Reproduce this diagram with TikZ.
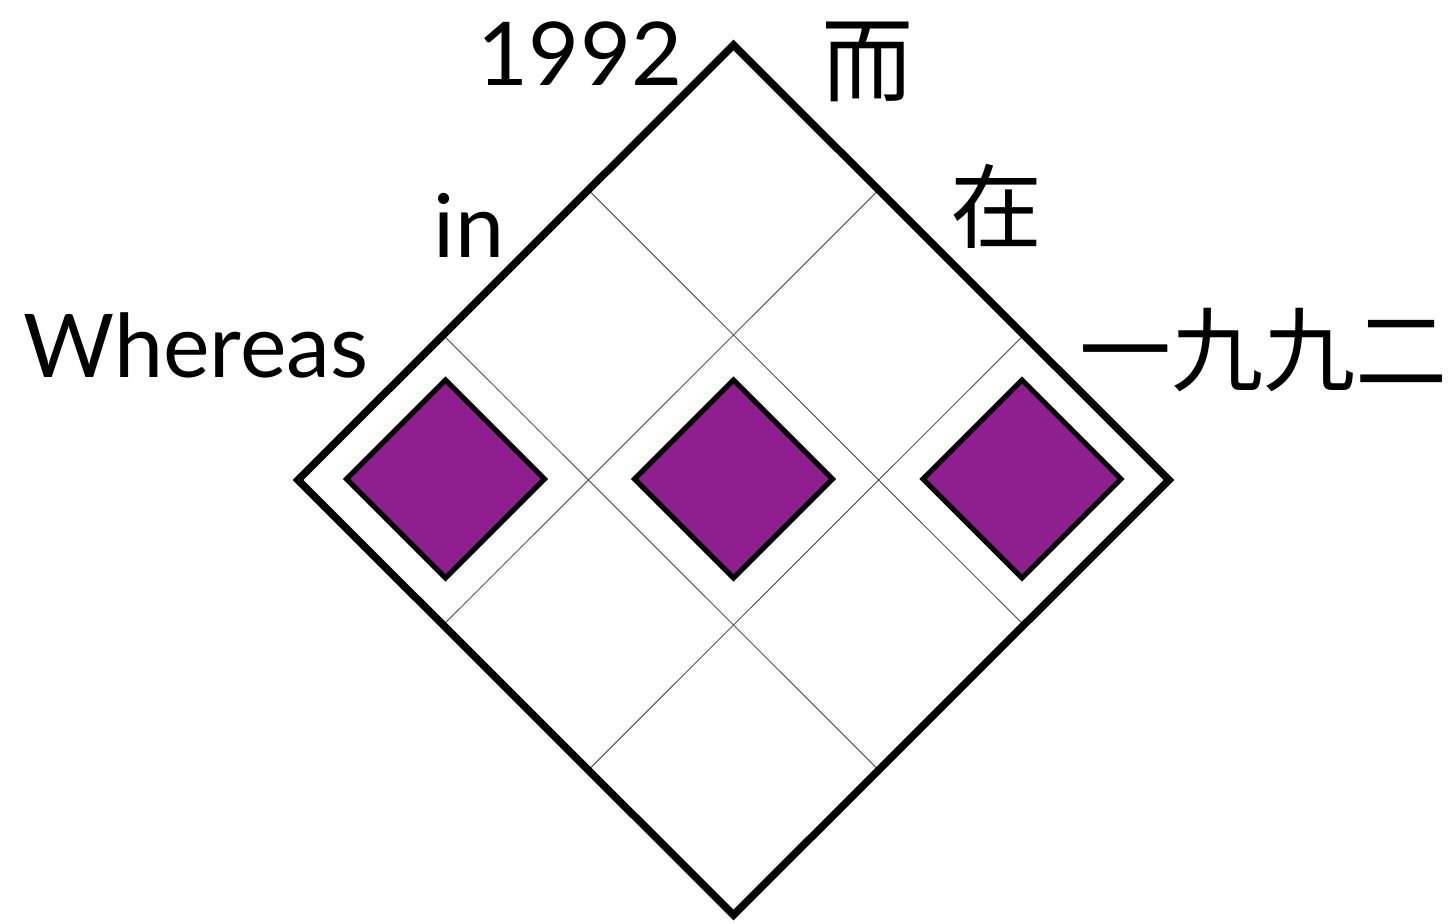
\documentclass[tikz,border=0pt]{standalone}
\usepackage{fontspec}
\usetikzlibrary{calc}
\setmainfont{Lato}
\newfontfamily\cjk{Noto Sans CJK SC}
\definecolor{dpurple}{RGB}{143,31,143}
\begin{document}
\begin{tikzpicture}[x=0.5pt,y=-0.5pt,
  outer/.style={draw=black,line width=3.8pt,line join=miter},
  gridline/.style={draw=black!65,line width=0.5pt},
  cellmark/.style={draw=black,fill=dpurple,line width=2.6pt,line join=miter},
  lbl/.style={inner sep=0pt,font=\fontsize{44}{50}\selectfont},
  cjklbl/.style={inner sep=0pt,font=\cjk\fontsize{46}{52}\selectfont}]
\useasboundingbox (0,0) rectangle (1449,923);
% outer diamond corners
\coordinate (T) at (733.5,45);
\coordinate (L) at (298,480);
\coordinate (R) at (1169,480);
\coordinate (B) at (733.5,915);
% grid points on edges
\coordinate (tl1) at ($(L)!1/3!(T)$);
\coordinate (tl2) at ($(L)!2/3!(T)$);
\coordinate (br1) at ($(B)!1/3!(R)$);
\coordinate (br2) at ($(B)!2/3!(R)$);
\coordinate (tr1) at ($(T)!1/3!(R)$);
\coordinate (tr2) at ($(T)!2/3!(R)$);
\coordinate (bl1) at ($(L)!1/3!(B)$);
\coordinate (bl2) at ($(L)!2/3!(B)$);
\draw[gridline] (tl1) -- (br1);
\draw[gridline] (tl2) -- (br2);
\draw[gridline] (tr1) -- (bl1);
\draw[gridline] (tr2) -- (bl2);
\draw[outer] (T) -- (R) -- (B) -- (L) -- cycle;
% purple marks
\foreach \n/\cx in {m1/445.5, m2/733.5, m3/1022} {
  \draw[cellmark] (\cx-99,479) -- (\cx,380) -- (\cx+99,479) -- (\cx,578) -- cycle;
}
% labels
\node[lbl,anchor=base] (n1992) at (580,85) {1992};
\node[lbl,anchor=base] (nin) at (469,257) {in};
\node[lbl,anchor=base] (nwh) at (196,377) {Whereas};
\node[cjklbl,anchor=base] (ner) at (867,94) {而};
\node[cjklbl,anchor=base] (nzai) at (996,241) {在};
\node[cjklbl,anchor=base] (nyi) at (1263,384) {一九九二};
\end{tikzpicture}
\end{document}
